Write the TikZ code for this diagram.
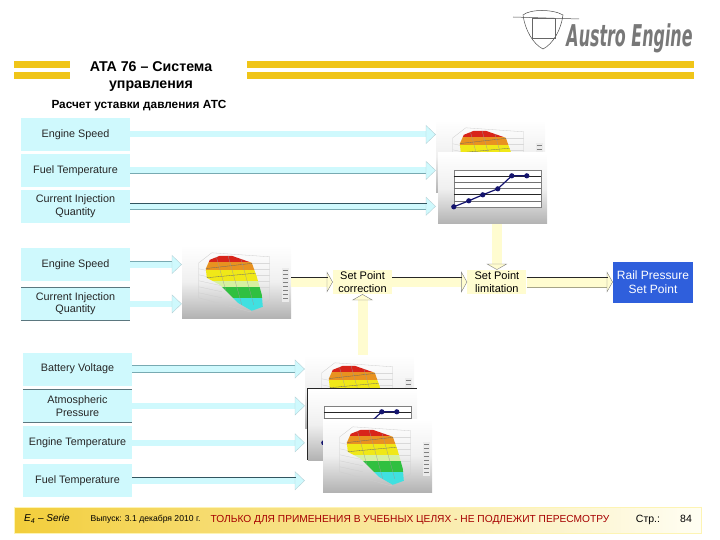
\documentclass[tikz,border=0pt]{standalone}
\usepackage{fontspec}
\setmainfont{Liberation Sans}
\newfontfamily\logofont{DejaVu Sans}
\usetikzlibrary{positioning, arrows.meta, shapes}
\definecolor{barcol}{RGB}{240, 197, 24}
\definecolor{sigcol}{RGB}{207, 249, 253}
\definecolor{sigedge}{RGB}{120, 170, 178}
\definecolor{sigdark}{RGB}{50, 85, 95}
\definecolor{setcol}{RGB}{255, 252, 208}
\definecolor{railcol}{RGB}{47, 95, 220}
\definecolor{chartcol}{RGB}{20, 20, 110}
\definecolor{logocol}{RGB}{120, 120, 120}
\definecolor{mapred}{RGB}{216, 36, 26}
\definecolor{maporange}{RGB}{232, 146, 32}
\definecolor{mapyellow}{RGB}{240, 232, 24}
\definecolor{mappale}{RGB}{214, 240, 160}
\definecolor{mapgreen}{RGB}{48, 192, 64}
\definecolor{mapcyan}{RGB}{64, 224, 224}

\newcommand{\drawsurface}[1]{%
  \begin{scope}[shift={(#1.north west)}]
    % Walls
    \draw[black!20, line width=0.3pt] (17,18) -- (30,8) -- (88,12) -- (88,55) -- (68,67) -- (17,53) -- cycle;
    \foreach \y in {24,30,36,42,48} {
      \draw[black!20, line width=0.25pt] (17,\y) -- (40,\y+5);
      \draw[black!15, line width=0.25pt] (70,\y-6) -- (88,\y-6);
    }
    % Surface
    \begin{scope}
      \clip (24,24) -- (28,15) -- (38,11) -- (50,11) -- (70,18) -- (75,32)
        -- (80,50) -- (81,62) -- (70,66) -- (56,58) -- (38,40) -- (25,33) -- cycle;
      \fill[mapred] (20,8) rectangle (85,17);
      \fill[maporange] (20,17) rectangle (85,25);
      \fill[mapyellow] (20,25) rectangle (85,36);
      \fill[mappale] (20,36) rectangle (85,42);
      \fill[mapgreen] (20,42) rectangle (85,53);
      \fill[mapcyan] (20,53) rectangle (85,70);
      \draw[black!60, line width=0.3pt] (22,24) -- (75,18) (24,33) -- (78,28);
      \foreach \x in {34,46,58} {
        \draw[black!40, line width=0.25pt] (\x,10) -- (\x+14,60);
      }
    \end{scope}
    % Legend
    \fill[black!8] (100,23) rectangle (107,57);
    \foreach \y in {25,29,...,55} {
      \draw[black!50, line width=0.4pt] (101,\y) -- (106,\y);
    }
  \end{scope}
}
\newcommand{\drawchart}[1]{%
  \begin{scope}[shift={(#1.north west)}]
    \fill[white] (16,17) rectangle (103,54);
    \draw[black!50, line width=0.3pt] (16,17) rectangle (103,54);
    \foreach \y/\c in {23/85, 29.5/55, 35.5/55, 41.5/85, 48/55} {
      \draw[black!\c, line width=0.5pt] (16,\y) -- (103,\y);
    }
    \draw[chartcol, line width=1.2pt] (16,54) -- (31,48) -- (45,42) -- (60,36) -- (74,23) -- (89,23);
    \foreach \x/\y in {16/54, 31/48, 45/42, 60/36, 74/23, 89/23} {
      \fill[chartcol] (\x,\y) circle (2.6);
    }
  \end{scope}
}

\begin{document}
\begin{tikzpicture}[
    x=1pt, y=-1pt,
    every node/.style={align=center, inner sep=0pt},
    inbox/.style={fill=sigcol, minimum width=109pt, minimum height=33pt, font=\fontsize{10.8}{12.5}\selectfont, text=black!85},
    inline/.style={inbox, append after command={
        (\tikzlastnode.north west) edge[draw=sigdark!80, line width=0.6pt] (\tikzlastnode.north east)
        (\tikzlastnode.south west) edge[draw=sigdark!80, line width=0.6pt] (\tikzlastnode.south east)}},
    setbox/.style={fill=setcol, minimum width=59pt, minimum height=24pt, font=\fontsize{11}{12.5}\selectfont},
    card/.style={minimum width=109pt, minimum height=73pt, top color=white, bottom color=black!30, middle color=black!6},
    sig/.style={draw=sigcol, line width=6pt, -{Triangle[width=19pt, length=10pt, fill=sigcol, color=sigedge!55, line width=0.4pt]}},
    sigline/.style={sig, preaction={draw=sigedge, line width=7.4pt, -, shorten >=9pt}},
    edgetop/.style={draw=sigdark, line width=0.7pt, shorten >=9pt},
    feed/.style={draw=setcol, line width=10pt, -{Triangle[width=21pt, length=6pt, fill=setcol, color=black!50, line width=0.4pt]}},
    feedline/.style={feed, preaction={draw=setcol!65!black, line width=11pt, -, shorten >=5pt}},
    feedtop/.style={draw=black!85, line width=0.8pt, shorten >=5pt},
    bar/.style={fill=barcol}
]
    \useasboundingbox (0,0) rectangle (720,540);

    % Header
    \fill[bar] (14,61) rectangle (70,68);
    \fill[bar] (14,72) rectangle (70,79);
    \fill[bar] (247,61) rectangle (694,68);
    \fill[bar] (247,72) rectangle (694,79);
    \node[font=\fontsize{14.2}{17}\selectfont\bfseries] (title) at (151,76.5) {ATA 76 – Система\\управления};
    \node[font=\fontsize{11.8}{13}\selectfont\bfseries] (subtitle) at (139,106) {Расчет уставки давления АТС};

    % Logo
    \draw[black!70, line width=0.5pt] (523,15) .. controls (530,9) and (553,9) .. (563,15)
        .. controls (561,30) and (553,44) .. (543,49) .. controls (533,44) and (525,30) .. (523,15) -- cycle;
    \draw[black!70, line width=0.5pt] (513,17) -- (579,19);
    \draw[black!60, line width=0.6pt] (532,18) rectangle (555,38);
    \node[font=\fontsize{30}{30}\logofont\bfseries\itshape, text=logocol, xscale=0.53] (logo) at (629.5,38.5) {Austro Engine};

    % Upper inputs
    \node[inbox] (speedA) at (75.5,134.5) {Engine Speed};
    \node[inbox, below=2.5pt of speedA] (fuelA) {Fuel Temperature};
    \node[inbox, below=2.5pt of fuelA] (quantA) {Current Injection\\Quantity};

    % Middle inputs
    \node[inbox] (speedB) at (75.5,264.5) {Engine Speed};
    \node[inline, below=6pt of speedB] (quantB) {Current Injection\\Quantity};

    % Lower inputs
    \node[inbox] (battC) at (77.5,369) {Battery Voltage};
    \node[inline, below=3.5pt of battC] (atmC) {Atmospheric\\Pressure};
    \node[inbox, below=3.5pt of atmC] (engC) {Engine Temperature};
    \node[inbox, below=4.5pt of engC] (fuelC) {Fuel Temperature};

    % Maps
    \node[card] (mapA) at (490.5,156.5) {};
    \drawsurface{mapA}
    \node[card, minimum height=71pt] (chartA) at (492.5,188.5) {};
    \drawchart{chartA}

    \node[card] (mapB) at (236.5,281.5) {};
    \drawsurface{mapB}

    \node[card] (mapC) at (359.5,391.5) {};
    \drawsurface{mapC}
    \node[card, minimum height=71pt] (chartC) at (362.5,424.5) {};
    \drawchart{chartC}
    \draw[black!85, line width=0.7pt] (chartC.south west) -- (chartC.north west) -- (chartC.north east);
    \node[card] (mapD) at (377.5,455.5) {};
    \drawsurface{mapD}

    % Blocks
    \node[setbox] (correct) at (362.5,282) {Set Point\\correction};
    \node[setbox, right=75pt of correct] (limit) {Set Point\\limitation};
    \node[fill=railcol, text=white, minimum width=80pt, minimum height=41pt, font=\fontsize{12}{14.5}\selectfont] (rail) at (653,282) {Rail Pressure\\Set Point};

    % Connections
    \draw[sig] (speedA.east) -- (speedA.east -| mapA.west);
    \draw[sigline] (fuelA.east) -- (fuelA.east -| mapA.west);
    \draw[sigline] (quantA.east) -- (quantA.east -| mapA.west);
    \draw[edgetop] ([yshift=3.4pt]quantA.east) -- ([yshift=3.4pt]quantA.east -| mapA.west);
    \draw[sigline] (speedB.east) -- (speedB.east -| mapB.west);
    \draw[sig] (quantB.east) -- (quantB.east -| mapB.west);
    \draw[sigline] (battC.east) -- (battC.east -| mapC.west);
    \draw[sig] (atmC.east) -- (atmC.east -| mapC.west);
    \draw[sig] (engC.east) -- (engC.east -| mapC.west);
    \draw[sigline] (fuelC.east) -- (fuelC.east -| mapC.west);
    \draw[edgetop] ([yshift=3.4pt]fuelC.east) -- ([yshift=3.4pt]fuelC.east -| mapC.west);

    \draw[feed] (mapB.east |- correct) -- (correct.west);
    \draw[feedtop] ([yshift=5pt]mapB.east |- correct) -- ([yshift=5pt]correct.west);
    \draw[feed] (correct.east) -- (limit.west);
    \draw[feedtop] ([yshift=5pt]correct.east) -- ([yshift=5pt]limit.west);
    \draw[feedline] (limit.east) -- (rail.west);
    \draw[feedtop] ([yshift=5pt]limit.east) -- ([yshift=5pt]rail.west);
    \draw[feed] (limit |- chartA.south) -- (limit.north);
    \draw[feed] (correct |- mapC.north) -- (correct.south);

    % Footer
    \node[left color=barcol!85, middle color=setcol!75, right color=setcol!25, draw=setcol!85!barcol, line width=0.8pt,
        minimum width=687pt, minimum height=26pt] (footer) at (358,520) {};
    \node[font=\fontsize{10}{10}\selectfont\itshape] (serie) at (47,519) {E\textsubscript{4} – Serie};
    \node[font=\fontsize{8.6}{8.6}\selectfont] (issue) at (145.5,519.5) {Выпуск: 3.1 декабря 2010 г.};
    \node[font=\fontsize{10.2}{10.2}\selectfont, text=red!65!black] (notice) at (410,519.5) {ТОЛЬКО ДЛЯ ПРИМЕНЕНИЯ В УЧЕБНЫХ ЦЕЛЯХ  - НЕ ПОДЛЕЖИТ ПЕРЕСМОТРУ};
    \node[font=\fontsize{10.5}{10.5}\selectfont] (pagelabel) at (648,519.5) {Стр.:};
    \node[font=\fontsize{10.5}{10.5}\selectfont] (pagenum) at (686,519) {84};
\end{tikzpicture}
\end{document}
